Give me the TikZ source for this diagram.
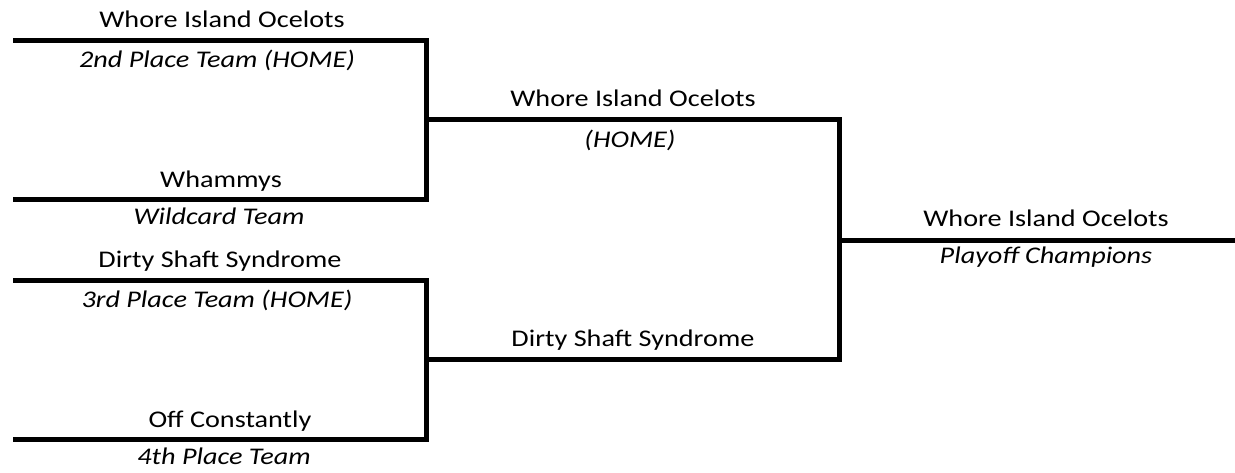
\documentclass[tikz,border=0pt]{standalone}
\usepackage{fontspec}
\setmainfont{Carlito}[FakeStretch=1.18]
\usetikzlibrary{positioning,calc}

\begin{document}
\begin{tikzpicture}[x=1bp,y=-1bp,line width=5bp,
    team/.style={font=\fontsize{24}{28}\selectfont,anchor=base},
    seed/.style={font=\fontsize{24}{28}\selectfont\itshape,anchor=base}]
    \useasboundingbox (0,0) rectangle (1235,473);

    % bracket corners
    \coordinate (t1) at (13,41);
    \coordinate (t2) at (13,200);
    \coordinate (t3) at (13,281);
    \coordinate (t4) at (13,440);
    \coordinate (s1) at (426,120);
    \coordinate (s2) at (426,360);
    \coordinate (fin) at (839,241);
    \coordinate (finend) at (1235,241);

    % first round
    \draw (t1) -- (t1 -| s1) -- (t2 -| s1) -- (t2);
    \draw (t3) -- (t3 -| s2) -- (t4 -| s2) -- (t4);

    % second round
    \draw (s1) -- (s1 -| fin) -- (s2 -| fin) -- (s2);

    % final
    \draw (fin) -- (finend);

    % 2nd vs wildcard
    \node[team] (ocelots) at (222,28) {Whore Island Ocelots};
    \node[seed] (second) at (217,68) {2nd Place Team (HOME)};
    \node[team] (whammys) at (221,188) {Whammys};
    \node[seed] (wildcard) at (219,225) {Wildcard Team};

    % 3rd vs 4th
    \node[team] (dirty) at (220,268) {Dirty Shaft Syndrome};
    \node[seed] (third) at (217,308) {3rd Place Team (HOME)};
    \node[team] (offc) at (230,428) {Off Constantly};
    \node[seed] (fourth) at (224,465) {4th Place Team};

    % winners
    \node[team] (semiA) at (633,107) {Whore Island Ocelots};
    \node[seed] (semiHome) at (630,148) {(HOME)};
    \node[team] (semiB) at (633,347) {Dirty Shaft Syndrome};
    \node[team] (champ) at (1046,227) {Whore Island Ocelots};
    \node[seed] (champs) at (1046,264) {Playoff Champions};
\end{tikzpicture}
\end{document}
